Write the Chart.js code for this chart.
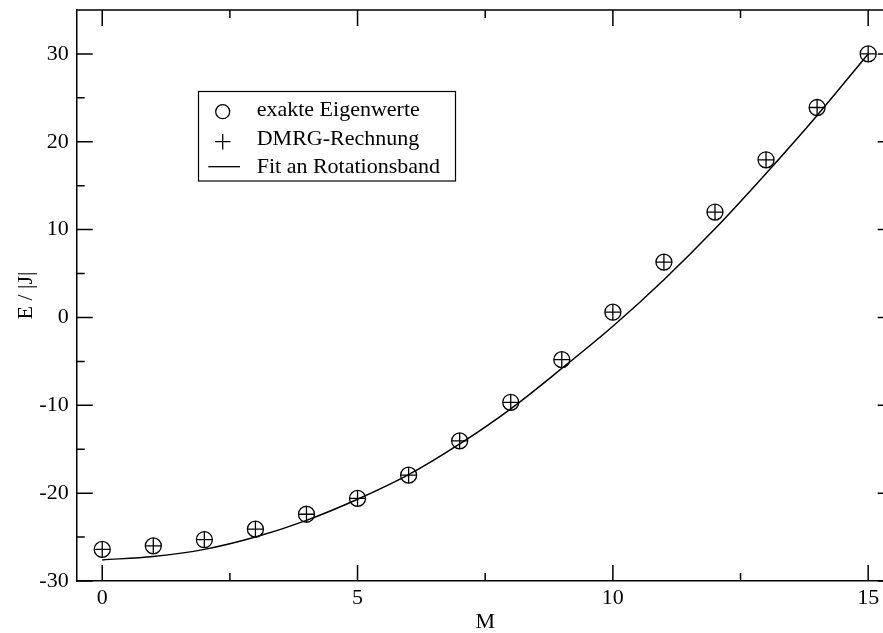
<!DOCTYPE html>
<html>
<head>
<meta charset="utf-8">
<script src="https://cdn.jsdelivr.net/npm/chart.js@4/dist/chart.umd.min.js"></script>
<style>
  html, body { margin: 0; padding: 0; overflow: hidden; background: #fff; }
  #wrap { width: 903px; height: 633px; }
</style>
</head>
<body>
<div id="wrap"><canvas id="chart" width="903" height="633"></canvas></div>
<script>
// values
const mValues = [0, 1, 2, 3, 4, 5, 6, 7, 8, 9, 10, 11, 12, 13, 14, 15];
const exactEnergies = [-26.4, -26.0, -25.3, -24.1, -22.4, -20.6, -17.95, -14.05, -9.66, -4.8, 0.6, 6.3, 12.0, 17.95, 23.9, 30.0];
const dmrgEnergies = [-26.4, -26.0, -25.3, -24.1, -22.4, -20.6, -17.95, -14.05, -9.66, -4.8, 0.6, 6.3, 12.0, 17.95, 23.9, 30.0];
const fitEnergies = [-27.6, -27.2, -26.4, -25.0, -23.1, -20.7, -17.9, -14.4, -10.4, -5.8, -1.0, 4.3, 10.1, 16.4, 23.0, 30.0];

const xTicks = [0, 5, 10, 15];
const xMinorTicks = [2.5, 7.5, 12.5];
const yTicks = [-30, -20, -10, 0, 10, 20, 30];
const yMinorTicks = [-25, -15, -5, 5, 15, 25];

const seriesLabels = ['exakte Eigenwerte', 'DMRG-Rechnung', 'Fit an Rotationsband'];

const toPoints = (ys) => mValues.map((m, i) => ({ x: m, y: ys[i] }));

Chart.defaults.font.family = "'Liberation Serif', 'Times New Roman', serif";
Chart.defaults.font.size = 22;
Chart.defaults.color = '#000';

// frame, inward tick marks and the boxed legend
const framePlugin = {
  id: 'frame',
  afterDraw(chart) {
    const { ctx, chartArea: a, scales: { x, y } } = chart;
    ctx.save();
    ctx.strokeStyle = '#000';
    ctx.lineWidth = 1.5;
    ctx.beginPath();
    ctx.moveTo(a.left, a.top); ctx.lineTo(a.right, a.top);
    ctx.moveTo(a.right, a.top); ctx.lineTo(a.right, a.bottom);
    ctx.stroke();

    const tick = (vals, len) => {
      ctx.beginPath();
      vals.forEach(v => {
        const px = x.getPixelForValue(v);
        ctx.moveTo(px, a.bottom); ctx.lineTo(px, a.bottom - len);
        ctx.moveTo(px, a.top); ctx.lineTo(px, a.top + len);
      });
      ctx.stroke();
    };
    const ytick = (vals, len) => {
      ctx.beginPath();
      vals.forEach(v => {
        const py = y.getPixelForValue(v);
        ctx.moveTo(a.left, py); ctx.lineTo(a.left + len, py);
        ctx.moveTo(a.right, py); ctx.lineTo(a.right - len, py);
      });
      ctx.stroke();
    };
    tick(xTicks, 16);
    tick(xMinorTicks, 8);
    ytick(yTicks, 16);
    ytick(yMinorTicks, 8);

    // legend
    ctx.lineWidth = 1.2;
    ctx.strokeRect(198.5, 91.5, 257, 89.5);
    ctx.lineWidth = 1.3;
    ctx.beginPath();
    ctx.arc(222.7, 111.7, 7, 0, Math.PI * 2);
    ctx.stroke();
    ctx.beginPath();
    ctx.moveTo(215, 141.7); ctx.lineTo(230.4, 141.7);
    ctx.moveTo(222.7, 134); ctx.lineTo(222.7, 149.4);
    ctx.stroke();
    ctx.beginPath();
    ctx.moveTo(208.3, 166.7); ctx.lineTo(240, 166.7);
    ctx.stroke();
    ctx.fillStyle = '#000';
    ctx.font = "22px 'Liberation Serif', serif";
    ctx.textBaseline = 'alphabetic';
    ctx.fillText(chart.data.datasets[0].label, 256.7, 116);
    ctx.fillText(chart.data.datasets[1].label, 256.7, 144.5);
    ctx.fillText(chart.data.datasets[2].label, 256.7, 173);
    ctx.restore();
  }
};

new Chart(document.getElementById('chart'), {
  type: 'scatter',
  data: {
    datasets: [
      {
        label: seriesLabels[0],
        data: toPoints(exactEnergies),
        pointStyle: 'circle',
        pointRadius: 8,
        borderColor: '#000',
        backgroundColor: 'rgba(0,0,0,0)',
        pointBorderWidth: 1.3
      },
      {
        label: seriesLabels[1],
        data: toPoints(dmrgEnergies),
        pointStyle: 'cross',
        pointRadius: 8,
        borderColor: '#000',
        pointBorderWidth: 1.3
      },
      {
        label: seriesLabels[2],
        data: toPoints(fitEnergies),
        showLine: true,
        pointRadius: 0,
        borderColor: '#000',
        borderWidth: 1.5,
        cubicInterpolationMode: 'monotone'
      }
    ]
  },
  options: {
    responsive: false,
    animation: false,
    layout: { padding: { top: 10, right: 0, bottom: 0, left: 0 } },
    plugins: { legend: { display: false }, tooltip: { enabled: false } },
    scales: {
      x: {
        type: 'linear',
        min: -0.5,
        max: 15.5,
        grid: { display: false, drawTicks: false },
        border: { display: true, color: '#000', width: 1.5 },
        ticks: { padding: 4, maxRotation: 0, autoSkip: false },
        afterBuildTicks: s => { s.ticks = xTicks.map(v => ({ value: v })); },
        afterFit: s => { s.height = 52; s.paddingLeft = 0; s.paddingRight = 0; },
        title: { display: true, text: 'M', padding: 0, font: { size: 22, lineHeight: 1 } }
      },
      y: {
        type: 'linear',
        min: -30,
        max: 35,
        grid: { display: false, drawTicks: false },
        border: { display: true, color: '#000', width: 1.5 },
        ticks: { padding: 8, autoSkip: false },
        afterBuildTicks: s => { s.ticks = yTicks.map(v => ({ value: v })); },
        afterFit: s => { s.width = 76.7; s.paddingTop = 0; s.paddingBottom = 0; },
        title: { display: true, text: 'E / |J|', padding: { top: 13, bottom: 0 }, font: { size: 22, lineHeight: 1.2 } }
      }
    }
  },
  plugins: [framePlugin]
});
</script>
</body>
</html>
